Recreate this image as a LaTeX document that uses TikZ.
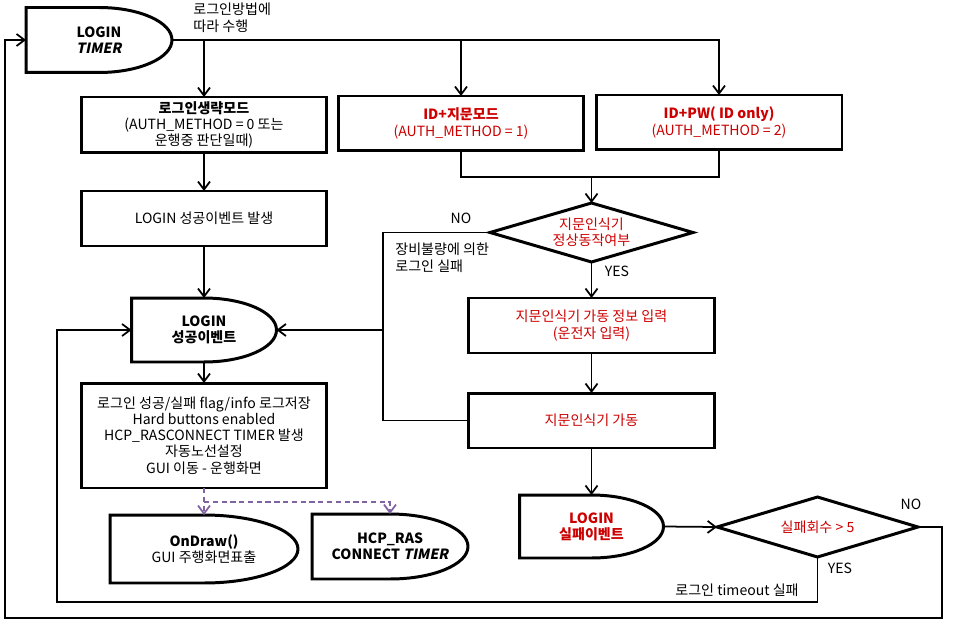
\documentclass[tikz,border=0pt]{standalone}
\usepackage{fontspec}
\setmainfont{Noto Sans CJK KR}
\newfontfamily\slantfont[FakeSlant=0.2]{Noto Sans CJK KR}
\usepackage{tikz}
\usetikzlibrary{arrows.meta,calc,shapes.geometric}

\definecolor{failred}{RGB}{204,0,0}
\definecolor{dashpurple}{RGB}{128,100,162}

\tikzset{
  conn/.style={line width=1pt, draw=black},
  dashlink/.style={line width=1pt, draw=dashpurple, dash pattern=on 3pt off 2pt},
  box/.style={draw, line width=1.7pt, rectangle, align=center, inner sep=0pt, outer sep=0pt},
  delay/.style={rectangle, align=center, inner sep=0pt, outer sep=0pt},
  decision/.style={draw, line width=1.7pt, diamond, aspect=3.4, align=center, inner sep=0pt, outer sep=0pt},
  note/.style={align=left, inner sep=0pt},
  >={Straight Barb[length=1.6mm,width=2.4mm]}
}

\begin{document}
\begin{tikzpicture}[x=0.02cm, y=-0.02cm, font=\fontsize{8}{9.2}\selectfont]
        \useasboundingbox (0,0) rectangle (955,621);

        \node[delay, minimum width=2.92cm, minimum height=1.3cm] (timer) at (99,40) {\bfseries LOGIN\\{\slantfont\bfseries TIMER}};
        \node[box, minimum width=4.9cm, minimum height=1.12cm] (skip) at (204,125) {{\bfseries 로그인생략모드}\\(AUTH\_METHOD = 0 또는\\운행중 판단일때)};
        \node[box, minimum width=4.92cm, minimum height=1.1cm, text=failred] (idfp) at (461,123.5) {{\bfseries ID+지문모드}\\(AUTH\_METHOD = 1)};
        \node[box, minimum width=4.92cm, minimum height=1.1cm, text=failred] (idpw) at (719,122.5) {{\bfseries ID+PW( ID only)}\\(AUTH\_METHOD = 2)};
        \node[decision, minimum width=4.06cm, minimum height=1.18cm, text=failred] (fpchk) at (591.5,232.5) {지문인식기\\정상동작여부};
        \node[box, minimum width=4.94cm, minimum height=1.1cm, text=failred] (fpin) at (591.5,325.5) {지문인식기 가동 정보 입력\\(운전자 입력)};
        \node[box, minimum width=4.94cm, minimum height=1.1cm, text=failred] (fpon) at (591.5,420.5) {지문인식기 가동};
        \node[delay, minimum width=2.88cm, minimum height=1.26cm, text=failred] (failev) at (591.5,526.5) {\bfseries LOGIN\\\bfseries 실패이벤트};
        \node[decision, minimum width=4.02cm, minimum height=1.2cm, text=failred] (failchk) at (817.5,527) {실패회수 > 5};

        \node[box, minimum width=4.9cm, minimum height=1.1cm] (okbox) at (204,218.5) {LOGIN 성공이벤트 발생};
        \node[delay, minimum width=2.9cm, minimum height=1.28cm] (okev) at (204,330) {\bfseries LOGIN\\\bfseries 성공이벤트};
        \node[box, minimum width=4.9cm, minimum height=2.1cm] (post) at (204,435.5) {로그인 성공/실패 flag/info 로그저장\\Hard buttons enabled\\HCP\_RASCONNECT TIMER 발생\\자동노선설정\\GUI 이동 - 운행화면};
        \node[delay, minimum width=3.76cm, minimum height=1.36cm] (ondraw) at (204,549) {\bfseries OnDraw()\\GUI 주행화면표출};
        \node[delay, minimum width=3.12cm, minimum height=1.3cm] (rastimer) at (390,546.5) {\bfseries HCP\_RAS\\\bfseries CONNECT {\slantfont\bfseries TIMER}};

        \foreach \d in {timer,failev,okev,ondraw,rastimer}
          \draw[line width=1.7pt] let \p1=(\d.north), \p2=(\d.east) in
            (\d.north west) -- (\d.north) arc[start angle=90, end angle=-90, x radius={\x2-\x1}, y radius={\y1-\y2}] -- (\d.south west) -- cycle;

        \node[note, anchor=north west] (howto) at (193,3) {로그인방법에\\따라 수행};
        \node[note] (fpno) at (461,218) {NO};
        \node[note] (fpyes) at (617,271) {YES};
        \node[note, anchor=north west] (hwfail) at (395,243) {장비불량에 의한\\로그인 실패};
        \node[note] (failno) at (911,504) {NO};
        \node[note] (failyes) at (840,568) {YES};
        \node[note] (timeout) at (737,590) {로그인 timeout 실패};

        \coordinate (merge) at (591.5,177);
        \coordinate (nojoin) at (383,330);
        \coordinate (loopr) at (942,618);
        \coordinate (loopl) at (5,618);
        \coordinate (yesl) at (57,602);
        \coordinate (dsplit) at (204,502);

        \draw[conn, ->] (timer.east) -| (idpw.north);
        \draw[conn, ->] (timer.east -| skip.north) -- (skip.north);
        \draw[conn, ->] (timer.east -| idfp.north) -- (idfp.north);
        \draw[conn, ->] (skip.south) -- (okbox.north);
        \draw[conn, ->] (okbox.south) -- (okev.north);
        \draw[conn, ->] (okev.south) -- (post.north);

        \draw[conn] (idfp.south) |- (merge) -| (idpw.south);
        \draw[conn, ->] (merge) -- (fpchk.north);
        \draw[conn, ->] (fpchk.south) -- (fpin.north);
        \draw[conn, ->] (fpin.south) -- (fpon.north);
        \draw[conn, ->] (fpon.south) -- (failev.north);
        \draw[conn, ->] (failev.east) -- (failchk.west);

        \draw[conn] (fpchk.west) -| (nojoin);
        \draw[conn] (fpon.west) -| (nojoin);
        \draw[conn, ->] (nojoin) -- (okev.east);

        \draw[conn, ->] (failchk.east) -| (loopr) -- (loopl) |- (timer.west);
        \draw[conn, ->] (failchk.south) |- (yesl) |- (okev.west);

        \draw[dashlink, ->] (post.south) -- (ondraw.north);
        \draw[dashlink, ->] (dsplit) -| (rastimer.north);
\end{tikzpicture}
\end{document}
